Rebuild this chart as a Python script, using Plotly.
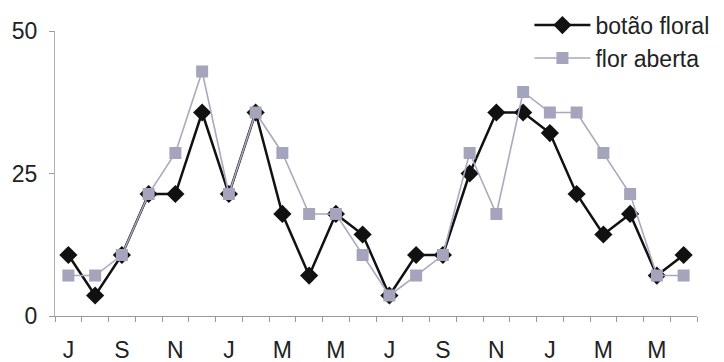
import plotly.graph_objects as go

months = ["J", "A", "S", "O", "N", "D", "J", "F", "M", "A", "M", "J",
          "J", "A", "S", "O", "N", "D", "J", "F", "M", "A", "M", "J"]
tick_labels = ["J", "S", "N", "J", "M", "M", "J", "S", "N", "J", "M", "M"]
botao_floral = [10.7, 3.6, 10.7, 21.4, 21.4, 35.7, 21.4, 35.7, 17.9, 7.1, 17.9, 14.3,
                3.6, 10.7, 10.7, 25.0, 35.7, 35.7, 32.1, 21.4, 14.3, 17.9, 7.1, 10.7]
flor_aberta = [7.1, 7.1, 10.7, 21.4, 28.6, 42.9, 21.4, 35.7, 28.6, 17.9, 17.9, 10.7,
               3.6, 7.1, 10.7, 28.6, 17.9, 39.3, 35.7, 35.7, 28.6, 21.4, 7.1, 7.1]
y_ticks = [0, 25, 50]

x = list(range(len(months)))
font = "Liberation Sans, Arial, sans-serif"

fig = go.Figure()
fig.add_trace(go.Scatter(
    x=x, y=botao_floral, name="botão floral", mode="lines+markers",
    line=dict(color="#111111", width=2.5),
    marker=dict(symbol="diamond", size=14, color="#111111"),
))
fig.add_trace(go.Scatter(
    x=x, y=flor_aberta, name="flor aberta", mode="lines+markers",
    line=dict(color="#a9a9bf", width=1.6),
    marker=dict(symbol="square", size=12, color="#a4a4bc"),
))

fig.update_layout(
    width=724, height=362,
    margin=dict(l=55, r=27, t=31, b=46, autoexpand=False),
    paper_bgcolor="white", plot_bgcolor="white",
    font=dict(family=font, size=23, color="#222222"),
    showlegend=True,
    legend=dict(
        xref="paper", yref="container",
        x=0.739, y=0.99, xanchor="left", yanchor="top",
        bgcolor="rgba(0,0,0,0)", itemwidth=56,
        font=dict(size=23, color="#222222"),
        tracegroupgap=0,
    ),
    xaxis=dict(
        range=[-0.5, len(months) - 0.5],
        tickmode="array",
        tickvals=x[::2], ticktext=tick_labels,
        ticks="", showgrid=False, zeroline=False,
        showline=True, linecolor="#9a9a9a", linewidth=1,
        ticklabelstandoff=13,
        minor=dict(tickmode="array",
                   tickvals=[i - 0.5 for i in range(len(months) + 1)],
                   ticks="outside", ticklen=5, tickcolor="#9a9a9a", showgrid=False),
    ),
    yaxis=dict(
        range=[0, 50],
        tickmode="array", tickvals=y_ticks,
        ticks="outside", ticklen=5, tickcolor="#9a9a9a",
        showgrid=False, zeroline=False,
        showline=True, linecolor="#b0b0b0", linewidth=1,
        ticklabelstandoff=7,
    ),
)

fig.write_html("out.html", config={"displayModeBar": False},
               post_script="document.body.style.margin='0px';")
